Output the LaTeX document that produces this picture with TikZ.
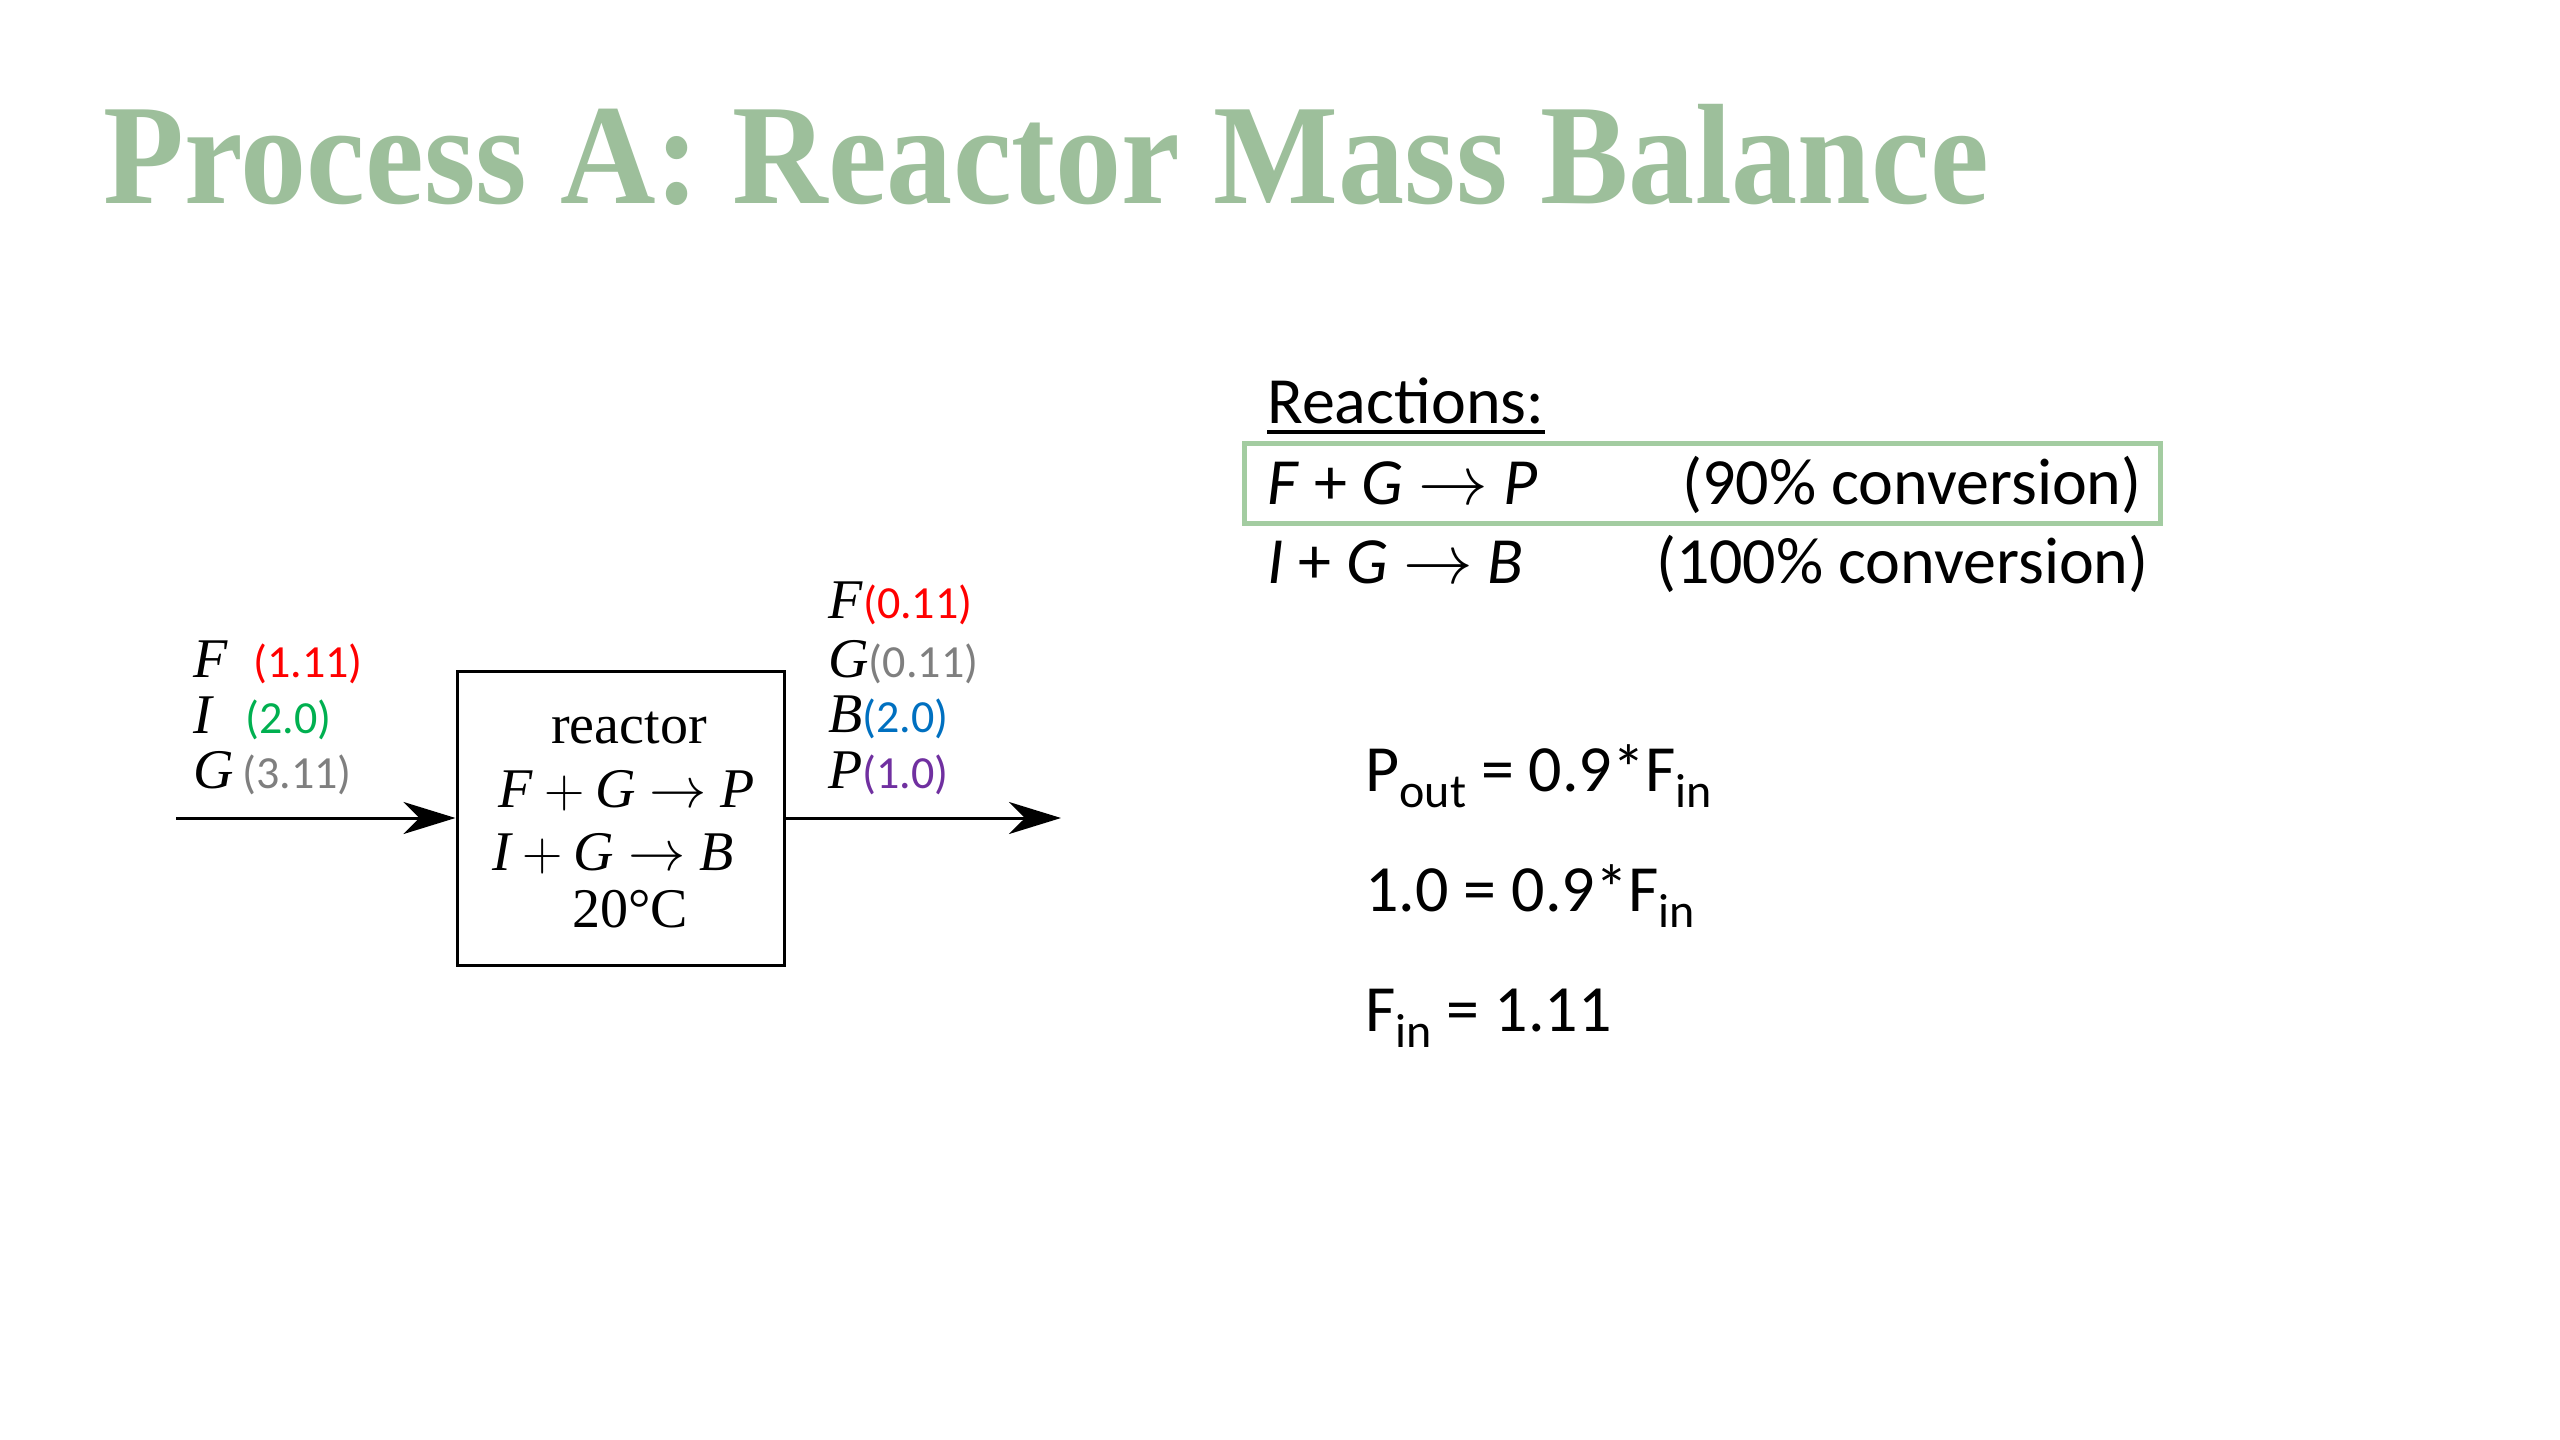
\documentclass[tikz,border=0pt]{standalone}
\usepackage{fontspec}
\usetikzlibrary{arrows.meta}
\newfontfamily\tnr{Liberation Serif}
\newfontfamily\crl{Carlito}
\definecolor{titlegreen}{HTML}{9DBF9B}
\definecolor{boxgreen}{HTML}{A3CCA1}
\definecolor{vred}{HTML}{FF0000}
\definecolor{vgreen}{HTML}{00B050}
\definecolor{vgray}{HTML}{7F7F7F}
\definecolor{vblue}{HTML}{0070C0}
\definecolor{vpurple}{HTML}{7030A0}
\newcommand\lowsub[1]{\raisebox{-8pt}{\fontsize{24}{24}\selectfont #1}}
\newcommand\sarr[1]{\scalebox{#1}{$\rightarrow$}}
\newcommand\splus{\scalebox{1.125}{$+$}}
\begin{document}
\begin{tikzpicture}[x=0.5pt,y=-0.5pt,
  lbl/.style={inner sep=0pt, anchor=base west},
  ctr/.style={inner sep=0pt, anchor=base},
  tnrtxt/.style={font=\tnr\fontsize{28}{30}\selectfont},
  num/.style={font=\crl\fontsize{23}{25}\selectfont},
  caltxt/.style={font=\crl\fontsize{33}{40}\selectfont},
  flow/.style={line width=1.5pt, -{Stealth[length=26pt,width=16pt,inset=8pt]}}]
\useasboundingbox[fill=white] (0,0) rectangle (2560,1440);

% title
\node[lbl, text=titlegreen, font=\tnr\bfseries\fontsize{71.5}{80}\selectfont] (title) at (103,203)
  {\scalebox{0.925}[1]{Process A: Reactor Mass Balance}};

% reactor
\node[draw, line width=1.5pt, minimum width=163.5pt, minimum height=147pt, inner sep=0pt] (reactor) at (620.5,818) {};
\node[ctr, tnrtxt] (r1) at (629,743) {reactor};
\node[ctr, tnrtxt] (r2) at (627,807) {$\textit{F}\mathbin{\splus}\textit{G}\mathrel{\sarr{1.15}}\textit{P}$};
\node[ctr, tnrtxt] (r3) at (613,870) {$\textit{I}\mathbin{\splus}\textit{G}\mathrel{\sarr{1.15}}\textit{B}$};
\node[ctr, tnrtxt] (r4) at (630,927) {20°C};

% streams
\coordinate (in) at (176,818);
\coordinate (out) at (1061,818);
\draw[flow] (in) -- (reactor.west);
\draw[flow] (reactor.east) -- (out);

% inlet labels
\node[lbl, tnrtxt] (inF) at (193,677) {\textit{F}};
\node[lbl, num, text=vred] (inFv) at (253,677) {(1.11)};
\node[lbl, tnrtxt] (inI) at (193,733) {\textit{I}};
\node[lbl, num, text=vgreen] (inIv) at (245,733) {(2.0)};
\node[lbl, tnrtxt] (inG) at (193,788) {\textit{G}};
\node[lbl, num, text=vgray] (inGv) at (242,788) {(3.11)};

% outlet labels
\node[lbl] (outF) at (828,618) {{\tnr\fontsize{28}{30}\selectfont\textit{F}}{\crl\fontsize{23}{25}\selectfont\color{vred}(0.11)}};
\node[lbl] (outG) at (828,677) {{\tnr\fontsize{28}{30}\selectfont\textit{G}}{\crl\fontsize{23}{25}\selectfont\color{vgray}(0.11)}};
\node[lbl] (outB) at (828,732) {{\tnr\fontsize{28}{30}\selectfont\textit{B}}{\crl\fontsize{23}{25}\selectfont\color{vblue}(2.0)}};
\node[lbl] (outP) at (828,788) {{\tnr\fontsize{28}{30}\selectfont\textit{P}}{\crl\fontsize{23}{25}\selectfont\color{vpurple}(1.0)}};

% reactions
\node[lbl, caltxt] (reac) at (1267,423) {Reactions:};
\draw[line width=1.6pt] ([yshift=-4.5pt]reac.base west) -- ([yshift=-4.5pt]reac.base east);
\node[draw=boxgreen, line width=2.5pt, minimum width=458pt, minimum height=40pt, inner sep=0pt] (hl) at (1702,483) {};
\node[lbl, caltxt] (rx1) at (1267,504) {\textit{F} + \textit{G} \sarr{1.4} \textit{P}};
\node[inner sep=0pt, anchor=base east, caltxt] (cv1) at (2142,504) {(90\% conversion)};
\node[lbl, caltxt] (rx2) at (1267,583) {\textit{I} + \textit{G} \sarr{1.4} \textit{B}};
\node[inner sep=0pt, anchor=base east, caltxt] (cv2) at (2149,583) {(100\% conversion)};

% equations
\node[lbl, caltxt] (eq1) at (1365,791) {P\lowsub{out} = 0.9*F\lowsub{in}};
\node[lbl, caltxt] (eq2) at (1365,911) {1.0 = 0.9*F\lowsub{in}};
\node[lbl, caltxt] (eq3) at (1365,1031) {F\lowsub{in} = 1.11};
\end{tikzpicture}
\end{document}
